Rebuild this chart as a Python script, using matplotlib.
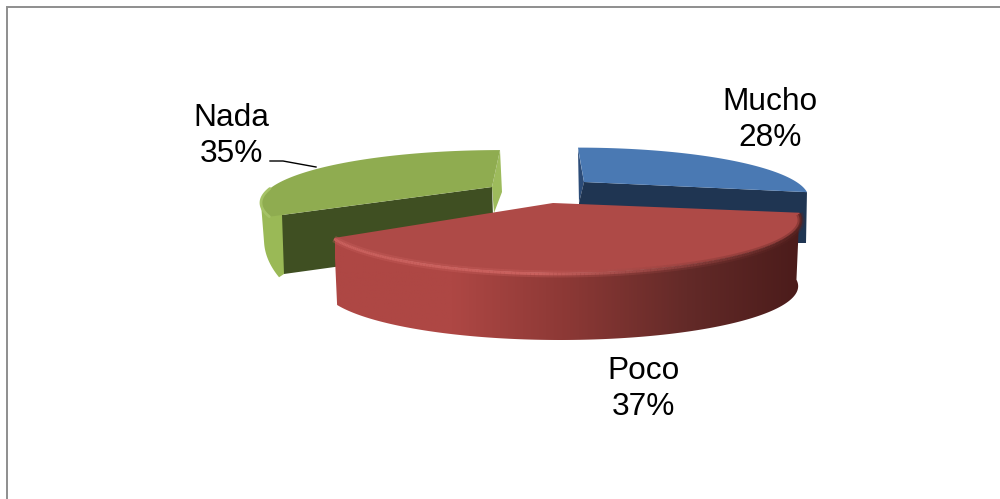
import numpy as np
import matplotlib
matplotlib.use('Agg')
import matplotlib.pyplot as plt
from matplotlib.collections import LineCollection
from matplotlib.colors import to_rgb, LinearSegmentedColormap
from matplotlib.patches import Polygon

names = ['Mucho', 'Poco', 'Nada']
values = [28, 37, 35]

plt.rcParams['font.family'] = ['Liberation Sans', 'DejaVu Sans']

# pie is drawn clockwise from 12 o'clock, squashed with a bit of perspective
K = 0.3
edges = np.concatenate([[0], np.cumsum(values)]) / sum(values) * 2 * np.pi


def rim(theta, cx, cy, rx, ry):
    u, v = np.sin(theta), np.cos(theta)
    s = 1 / (1 + K * v)
    return cx + rx * u * s, cy - ry * v * s


def mix(a, b, t):
    a, b = np.array(to_rgb(a)), np.array(to_rgb(b))
    return tuple(a + (b - a) * t)


fig = plt.figure(figsize=(10, 4.99), dpi=100)
ax = fig.add_axes([0, 0, 1, 1])

# chart border, only top and left show
ax.plot([6.5, 6.5, 1000], [499, 6.5, 6.5], color='#8e8e8e', lw=1.4, solid_joinstyle='miter')

# green slice (Nada)
green = (500, 187, 228, 48)
t = np.linspace(edges[2] + 0.08, edges[3], 120)
x, y = rim(t, *green)
tw = np.linspace(edges[2], edges[2] + 0.3, 30)
xw, yw = rim(tw, *green)
dw = np.linspace(56, 38, 30)
ax.fill(np.r_[284, xw + 3, xw[-1], 285], np.r_[274, yw + dw, yw[-1], 215], color='#9ab956', lw=0)
ax.fill([500, 502, 494, 492], [150, 192, 213, 187], color='#9dbb5c', lw=0)
ax.fill([492, 282, 284, 494], [187, 215, 274, 245], color='#3f4f22', lw=0)
ax.fill(np.r_[492, 282, x], np.r_[187, 215, y], color='#8fac50', lw=0)
ax.plot(x[:30], y[:30], color='#a5c266', lw=2, solid_capstyle='round')

# blue slice (Mucho)
blue = (578, 183, 220, 46)
t = np.linspace(edges[0], edges[1], 100)
x, y = rim(t, *blue)
ax.fill([578, 584, 579], [149, 182, 203], color='#2c4c78', lw=0)
ax.fill([579, 584, x[-1], 806, 579], [203, 182, y[-1], 243, 243], color='#1f3552', lw=0)
ax.fill(np.r_[584, x], np.r_[182, y], color='#4a79b3', lw=0)

# red slice (Poco)
red = (560, 203, 230, 49)
t = np.linspace(edges[1], edges[2], 200)
x, y = rim(t, *red)
depth = 67
dx = 3 - 6 * (x - 335) / 470
wall = Polygon(np.column_stack([np.r_[x, (x + dx)[::-1]], np.r_[y, (y + depth)[::-1]]]),
               fc='none', ec='none')
ax.add_patch(wall)
wall_cmap = LinearSegmentedColormap.from_list('wall', ['#ae4744', '#ae4744', '#8b3835', '#632a28', '#4a1b1a'])
im = ax.imshow(np.linspace(0, 1, 256).reshape(1, -1), cmap=wall_cmap, aspect='auto',
               extent=[335, 805, 345, 200], zorder=1)
im.set_clip_path(wall)
ax.fill(np.r_[553, x], np.r_[203, y], color='#ae4a47', lw=0, zorder=2)

# highlight on the front edge of the red top, fades out to the right
pts = np.column_stack([x, y + 1]).reshape(-1, 1, 2)
segs = np.concatenate([pts[:-1], pts[1:]], axis=1)
cols = [mix('#c9605d', '#5a2422', np.clip((xi - 540) / 250, 0, 1)) for xi in x[:-1]]
ax.add_collection(LineCollection(segs, colors=[c + (0.35,) for c in cols], linewidths=5, zorder=3))
ax.add_collection(LineCollection(segs, colors=cols, linewidths=2, zorder=3))

# labels
label_pos = [(770, 120), (643, 389), (231, 136)]
for name, val, (lx, ly) in zip(names, values, label_pos):
    ax.text(lx, ly, f'{name}\n{val}%', ha='center', va='center', fontsize=22.8,
            linespacing=1.27, color='black', zorder=5)

# leader line for Nada
ax.plot([270, 283, 316], [161, 161, 167], color='black', lw=1)

ax.set_xlim(0, 1000)
ax.set_ylim(499, 0)
ax.axis('off')

fig.savefig('out.png', dpi=100)
